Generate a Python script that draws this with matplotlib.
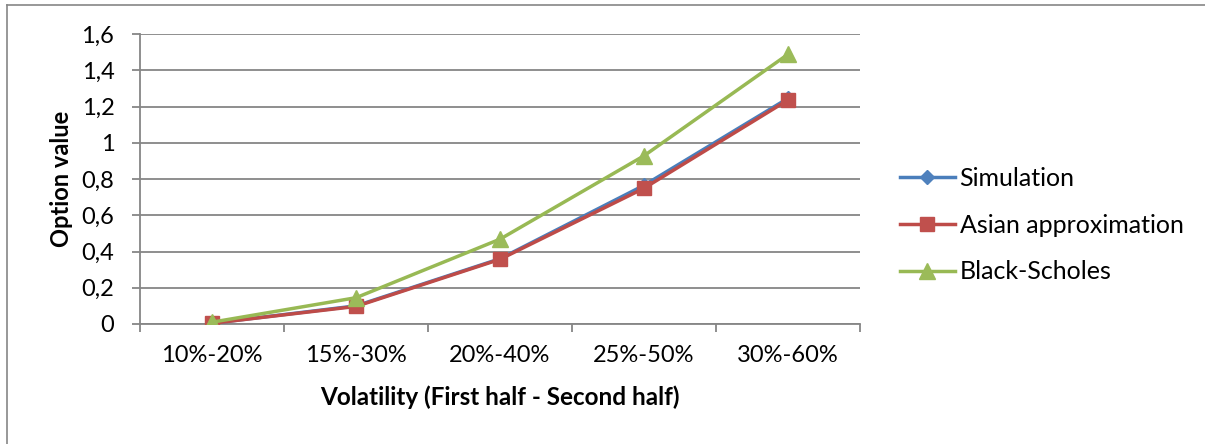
import matplotlib
matplotlib.use("Agg")
import matplotlib.pyplot as plt
from matplotlib.lines import Line2D

categories = ["10%-20%", "15%-30%", "20%-40%", "25%-50%", "30%-60%"]
simulation = [0.004, 0.100, 0.360, 0.765, 1.245]
asian_approx = [0.004, 0.097, 0.357, 0.749, 1.236]
black_scholes = [0.010, 0.145, 0.468, 0.928, 1.488]
y_ticks = [0, 0.2, 0.4, 0.6, 0.8, 1.0, 1.2, 1.4, 1.6]
y_tick_labels = ["0", "0,2", "0,4", "0,6", "0,8", "1", "1,2", "1,4", "1,6"]

plt.rcParams["font.family"] = ["Lato", "DejaVu Sans"]

W, H = 1205, 444
fig = plt.figure(figsize=(W / 100, H / 100), dpi=100)
fig.patch.set_facecolor("white")

# chart frame (left and top edges)
fig.add_artist(Line2D([7.5 / W, 7.5 / W], [0, 1 - 5.5 / H], transform=fig.transFigure,
                      color="#868686", lw=1.2))
fig.add_artist(Line2D([7.5 / W, 1], [1 - 5.5 / H, 1 - 5.5 / H], transform=fig.transFigure,
                      color="#868686", lw=1.2))

left, right, top, bottom = 140, 860, 34, 324
ax = fig.add_axes([left / W, 1 - bottom / H, (right - left) / W, (bottom - top) / H])

grid_c = "#868686"
x = list(range(len(categories)))

ax.plot(x, simulation, color="#4A7EBB", lw=2.5, marker="D", ms=7,
        mfc="#4F81BD", mec="#4F81BD", label="Simulation", zorder=3)
ax.plot(x, asian_approx, color="#BE4B48", lw=2.5, marker="s", ms=10,
        mfc="#C0504D", mec="#C0504D", label="Asian approximation", zorder=4)
ax.plot(x, black_scholes, color="#98B954", lw=2.5, marker="^", ms=11,
        mfc="#9BBB59", mec="#9BBB59", label="Black-Scholes", zorder=5)

ax.set_xlim(-0.5, len(categories) - 0.5)
ax.set_ylim(0, 1.6)
ax.set_yticks(y_ticks)
ax.set_yticklabels(y_tick_labels)
ax.set_xticks(x)
ax.set_xticklabels(categories)
ax.set_xticks([i - 0.5 for i in range(len(categories) + 1)], minor=True)

ax.grid(axis="y", color=grid_c, lw=1.3, zorder=0)
ax.set_axisbelow(True)
for side in ("top", "right"):
    ax.spines[side].set_visible(False)
for side in ("left", "bottom"):
    ax.spines[side].set_color(grid_c)
    ax.spines[side].set_linewidth(1.3)

ax.tick_params(axis="y", length=5.5, width=1.3, color=grid_c, labelsize=17, pad=13)
ax.tick_params(axis="x", which="major", length=0, labelsize=17, pad=15)
ax.tick_params(axis="x", which="minor", length=5.5, width=1.3, color=grid_c)

ax.set_ylabel("Option value", fontsize=17, fontweight="bold", labelpad=6)
ax.set_xlabel("Volatility (First half - Second half)", fontsize=17.5,
              fontweight="bold", labelpad=14)

leg = ax.legend(loc="center left", bbox_to_anchor=(1.055, 0.341), frameon=False,
                fontsize=18, handlelength=2.2, labelspacing=0.95, handletextpad=0.2,
                borderpad=0, borderaxespad=0)

fig.savefig("out.png", dpi=100, facecolor="white")
